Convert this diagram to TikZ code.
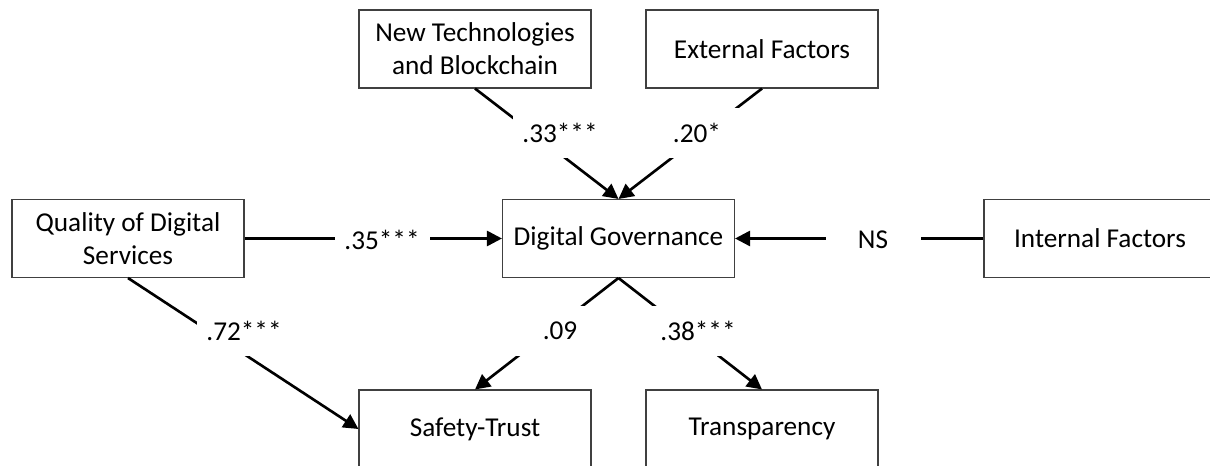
\documentclass[tikz,border=0pt]{standalone}
\usepackage{fontspec}
\setmainfont{Carlito}
\usetikzlibrary{arrows.meta}

\tikzset{
  factor/.style={draw=black!75, line width=0.6pt, minimum width=46.4mm,
    minimum height=15.6mm, inner sep=0pt, align=center,
    font=\fontsize{15.5}{18.8}\selectfont},
  coef/.style={fill=white, minimum width=19mm, minimum height=10mm,
    inner sep=0pt, font=\fontsize{15.5}{18.8}\selectfont},
  effect/.style={line width=1.5pt, -{Triangle[length=3mm,width=3mm]}}
}

\begin{document}
\begin{tikzpicture}[x=0.2mm, y=-0.2mm]
  \useasboundingbox (0,0) rectangle (1210,466);

  % constructs
  \node[factor] (nt) at (475,49) {New Technologies\\and Blockchain};
  \node[factor] (ef) at (762,49) {External Factors};
  \node[factor] (qds) at (128,238.5) {Quality of Digital\\Services};
  \node[factor] (dg) at (618.5,238.5) {Digital Governance};
  \node[factor] (intf) at (1100,238.5) {Internal Factors};
  \node[factor] (st) at (475,429) {Safety-Trust};
  \node[factor] (tr) at (762,429) {Transparency};

  % paths
  \draw[effect] (nt.south) -- (dg.north);
  \draw[effect] (ef.south) -- (dg.north);
  \draw[effect] (qds) -- (dg);
  \draw[effect] (intf) -- (dg);
  \draw[effect] (qds.south) -- (st.west);
  \draw[effect] (dg.south) -- (st.north);
  \draw[effect] (dg.south) -- (tr.north);

  % path coefficients (white boxes break the lines)
  \node[coef] (c-nt) at (560,133) {.33***};
  \node[coef] (c-ef) at (697,133) {.20*};
  \node[coef] (c-qds) at (382,240) {.35***};
  \node[coef] (c-intf) at (873,240) {NS};
  \node[coef] (c-st) at (244,331) {.72***};
  \node[coef] (c-dgst) at (560,331) {.09};
  \node[coef] (c-dgtr) at (698,331) {.38***};
\end{tikzpicture}
\end{document}
